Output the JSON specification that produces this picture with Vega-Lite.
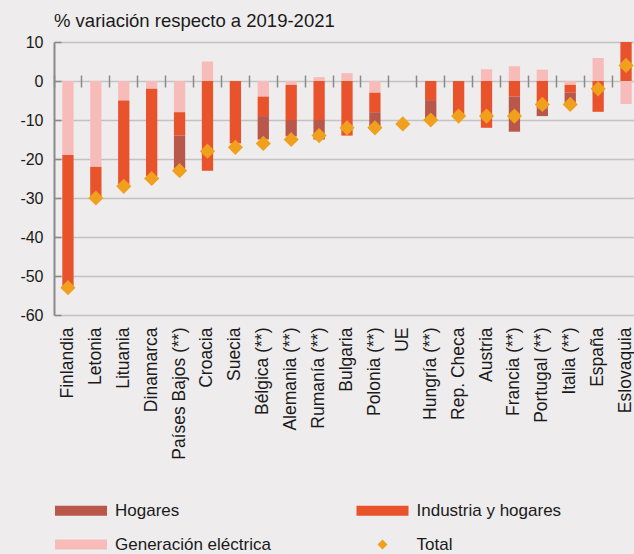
{
  "$schema": "https://vega.github.io/schema/vega-lite/v6.json",
  "width": 580,
  "height": 273,
  "autosize": {"type": "none"},
  "padding": {"left": 54, "top": 42, "right": 0, "bottom": 239},
  "background": "#eeeced",
  "title": {"text": "% variación respecto a 2019-2021", "anchor": "start", "frame": "group", "fontSize": 18.5, "fontWeight": "normal", "font": "Liberation Sans", "color": "#1a1a1a", "offset": 4},
  "config": {"view": {"stroke": null}, "font": "Liberation Sans"},
  "datasets": {
    "barras": [
      {"pais": "Finlandia", "serie": "Generación eléctrica", "orden": 1, "valor": -19},
      {"pais": "Finlandia", "serie": "Industria y hogares", "orden": 2, "valor": -34},
      {"pais": "Letonia", "serie": "Generación eléctrica", "orden": 1, "valor": -22},
      {"pais": "Letonia", "serie": "Industria y hogares", "orden": 2, "valor": -7.5},
      {"pais": "Lituania", "serie": "Generación eléctrica", "orden": 1, "valor": -5},
      {"pais": "Lituania", "serie": "Industria y hogares", "orden": 2, "valor": -21.5},
      {"pais": "Dinamarca", "serie": "Generación eléctrica", "orden": 1, "valor": -2},
      {"pais": "Dinamarca", "serie": "Industria y hogares", "orden": 2, "valor": -22.5},
      {"pais": "Países Bajos (**)", "serie": "Generación eléctrica", "orden": 1, "valor": -8},
      {"pais": "Países Bajos (**)", "serie": "Industria y hogares", "orden": 2, "valor": -6},
      {"pais": "Países Bajos (**)", "serie": "Hogares", "orden": 3, "valor": -8.5},
      {"pais": "Croacia", "serie": "Generación eléctrica", "orden": 1, "valor": 5},
      {"pais": "Croacia", "serie": "Industria y hogares", "orden": 2, "valor": -23},
      {"pais": "Suecia", "serie": "Industria y hogares", "orden": 2, "valor": -16},
      {"pais": "Bélgica (**)", "serie": "Generación eléctrica", "orden": 1, "valor": -4},
      {"pais": "Bélgica (**)", "serie": "Industria y hogares", "orden": 2, "valor": -5},
      {"pais": "Bélgica (**)", "serie": "Hogares", "orden": 3, "valor": -6},
      {"pais": "Alemania (**)", "serie": "Generación eléctrica", "orden": 1, "valor": -1},
      {"pais": "Alemania (**)", "serie": "Industria y hogares", "orden": 2, "valor": -9},
      {"pais": "Alemania (**)", "serie": "Hogares", "orden": 3, "valor": -4.2},
      {"pais": "Rumanía (**)", "serie": "Generación eléctrica", "orden": 1, "valor": 1},
      {"pais": "Rumanía (**)", "serie": "Industria y hogares", "orden": 2, "valor": -10},
      {"pais": "Rumanía (**)", "serie": "Hogares", "orden": 3, "valor": -5},
      {"pais": "Bulgaria", "serie": "Generación eléctrica", "orden": 1, "valor": 2},
      {"pais": "Bulgaria", "serie": "Industria y hogares", "orden": 2, "valor": -14},
      {"pais": "Polonia (**)", "serie": "Generación eléctrica", "orden": 1, "valor": -3},
      {"pais": "Polonia (**)", "serie": "Industria y hogares", "orden": 2, "valor": -5},
      {"pais": "Polonia (**)", "serie": "Hogares", "orden": 3, "valor": -3.7},
      {"pais": "Hungría (**)", "serie": "Industria y hogares", "orden": 2, "valor": -4.9},
      {"pais": "Hungría (**)", "serie": "Hogares", "orden": 3, "valor": -4.7},
      {"pais": "Rep. Checa", "serie": "Industria y hogares", "orden": 2, "valor": -8.7},
      {"pais": "Austria", "serie": "Generación eléctrica", "orden": 1, "valor": 3},
      {"pais": "Austria", "serie": "Industria y hogares", "orden": 2, "valor": -12},
      {"pais": "Francia (**)", "serie": "Generación eléctrica", "orden": 1, "valor": 3.8},
      {"pais": "Francia (**)", "serie": "Industria y hogares", "orden": 2, "valor": -4},
      {"pais": "Francia (**)", "serie": "Hogares", "orden": 3, "valor": -9},
      {"pais": "Portugal (**)", "serie": "Generación eléctrica", "orden": 1, "valor": 2.9},
      {"pais": "Portugal (**)", "serie": "Industria y hogares", "orden": 2, "valor": -7},
      {"pais": "Portugal (**)", "serie": "Hogares", "orden": 3, "valor": -2},
      {"pais": "Italia (**)", "serie": "Generación eléctrica", "orden": 1, "valor": -1},
      {"pais": "Italia (**)", "serie": "Industria y hogares", "orden": 2, "valor": -2},
      {"pais": "Italia (**)", "serie": "Hogares", "orden": 3, "valor": -2.6},
      {"pais": "España", "serie": "Generación eléctrica", "orden": 1, "valor": 5.9},
      {"pais": "España", "serie": "Industria y hogares", "orden": 2, "valor": -7.9},
      {"pais": "Eslovaquia", "serie": "Generación eléctrica", "orden": 1, "valor": -5.9},
      {"pais": "Eslovaquia", "serie": "Industria y hogares", "orden": 2, "valor": 10}
    ],
    "total": [
      {"pais": "Finlandia", "serie": "Total", "valor": -53},
      {"pais": "Letonia", "serie": "Total", "valor": -30},
      {"pais": "Lituania", "serie": "Total", "valor": -27},
      {"pais": "Dinamarca", "serie": "Total", "valor": -25},
      {"pais": "Países Bajos (**)", "serie": "Total", "valor": -23},
      {"pais": "Croacia", "serie": "Total", "valor": -18},
      {"pais": "Suecia", "serie": "Total", "valor": -17},
      {"pais": "Bélgica (**)", "serie": "Total", "valor": -16},
      {"pais": "Alemania (**)", "serie": "Total", "valor": -15},
      {"pais": "Rumanía (**)", "serie": "Total", "valor": -14},
      {"pais": "Bulgaria", "serie": "Total", "valor": -12},
      {"pais": "Polonia (**)", "serie": "Total", "valor": -12},
      {"pais": "UE", "serie": "Total", "valor": -11},
      {"pais": "Hungría (**)", "serie": "Total", "valor": -10},
      {"pais": "Rep. Checa", "serie": "Total", "valor": -9},
      {"pais": "Austria", "serie": "Total", "valor": -9},
      {"pais": "Francia (**)", "serie": "Total", "valor": -9},
      {"pais": "Portugal (**)", "serie": "Total", "valor": -6},
      {"pais": "Italia (**)", "serie": "Total", "valor": -6},
      {"pais": "España", "serie": "Total", "valor": -2},
      {"pais": "Eslovaquia", "serie": "Total", "valor": 4}
    ]
  },
  "resolve": {"axis": {"x": "independent"}},
  "layer": [
    {
      "data": {"name": "barras"},
      "mark": {"type": "bar", "width": {"band": 0.405}},
      "encoding": {
        "x": {"field": "pais", "type": "nominal",
          "sort": ["Finlandia","Letonia","Lituania","Dinamarca","Países Bajos (**)","Croacia","Suecia","Bélgica (**)","Alemania (**)","Rumanía (**)","Bulgaria","Polonia (**)","UE","Hungría (**)","Rep. Checa","Austria","Francia (**)","Portugal (**)","Italia (**)","España","Eslovaquia"],
          "scale": {"domain": ["Finlandia","Letonia","Lituania","Dinamarca","Países Bajos (**)","Croacia","Suecia","Bélgica (**)","Alemania (**)","Rumanía (**)","Bulgaria","Polonia (**)","UE","Hungría (**)","Rep. Checa","Austria","Francia (**)","Portugal (**)","Italia (**)","España","Eslovaquia"], "range": [0, 586], "paddingInner": 0, "paddingOuter": 0},
          "axis": {"orient": "bottom", "title": null, "labelAngle": -90, "labelFontSize": 17.5, "labelColor": "#1a1a1a", "labelPadding": 12, "ticks": false, "domain": false, "grid": false, "labelLimit": 300}
        },
        "y": {"field": "valor", "type": "quantitative", "stack": "zero",
          "scale": {"domain": [-60, 10], "nice": false},
          "axis": {"title": null, "values": [-60,-50,-40,-30,-20,-10,0,10], "labelExpr": "datum.value + ''", "labelOverlap": false, "labelFontSize": 16, "labelColor": "#1a1a1a", "labelPadding": 18, "ticks": true, "tickSize": -7, "tickColor": "#8a8a8a", "tickWidth": 1.5, "domainColor": "#8a8a8a", "domainWidth": 2, "gridColor": "#c2c2c2", "gridWidth": 1.3}
        },
        "order": {"field": "orden", "type": "quantitative"},
        "color": {"field": "serie", "type": "nominal",
          "scale": {"domain": ["Hogares","Industria y hogares","Generación eléctrica","Total"], "range": ["#b9574a","#e9532b","#f7bcb9","#f1a01e"]},
          "legend": {"title": null, "orient": "none", "legendX": 18.5, "legendY": 460, "columns": 2, "direction": "horizontal", "symbolType": "M-5.2,-1H5.2V1H-5.2Z", "symbolSize": 100, "symbolStrokeWidth": 0, "labelOffset": 25.5, "labelFontSize": 17, "labelColor": "#1a1a1a", "columnPadding": 84.5, "rowPadding": 16, "padding": 0, "labelLimit": 300,
            "encode": {"symbols": {"update": {"shape": {"signal": "datum.value === 'Total' ? 'diamond' : 'M-5.2,-1H5.2V1H-5.2Z'"}, "size": {"value": 100}, "strokeWidth": {"value": 0}, "opacity": {"value": 1}}}}
          }
        }
      }
    },
    {
      "mark": {"type": "rule", "color": "#8a8a8a", "strokeWidth": 2},
      "encoding": {"y": {"datum": 0, "type": "quantitative",
        "axis": {"title": null, "values": [-60,-50,-40,-30,-20,-10,0,10], "labelExpr": "datum.value + ''", "labelOverlap": false, "labelFontSize": 16, "labelColor": "#1a1a1a", "labelPadding": 18, "ticks": true, "tickSize": -7, "tickColor": "#8a8a8a", "tickWidth": 1.5, "domainColor": "#8a8a8a", "domainWidth": 2, "gridColor": "#c2c2c2", "gridWidth": 1.3}}}
    },
    {
      "data": {"name": "total"},
      "mark": {"type": "point", "shape": "diamond", "filled": true, "size": 230, "opacity": 1},
      "encoding": {
        "x": {"field": "pais", "type": "nominal",
          "sort": ["Finlandia","Letonia","Lituania","Dinamarca","Países Bajos (**)","Croacia","Suecia","Bélgica (**)","Alemania (**)","Rumanía (**)","Bulgaria","Polonia (**)","UE","Hungría (**)","Rep. Checa","Austria","Francia (**)","Portugal (**)","Italia (**)","España","Eslovaquia"],
          "axis": {"orient": "top", "title": null, "labels": false, "domain": false, "grid": false, "ticks": true, "tickSize": 12, "tickColor": "#8a8a8a", "tickWidth": 1.5, "bandPosition": 0, "offset": -45}
        },
        "y": {"field": "valor", "type": "quantitative",
          "axis": {"title": null, "values": [-60,-50,-40,-30,-20,-10,0,10], "labelExpr": "datum.value + ''", "labelOverlap": false, "labelFontSize": 16, "labelColor": "#1a1a1a", "labelPadding": 18, "ticks": true, "tickSize": -7, "tickColor": "#8a8a8a", "tickWidth": 1.5, "domainColor": "#8a8a8a", "domainWidth": 2, "gridColor": "#c2c2c2", "gridWidth": 1.3}},
        "color": {"field": "serie", "type": "nominal"}
      }
    }
  ]
}
